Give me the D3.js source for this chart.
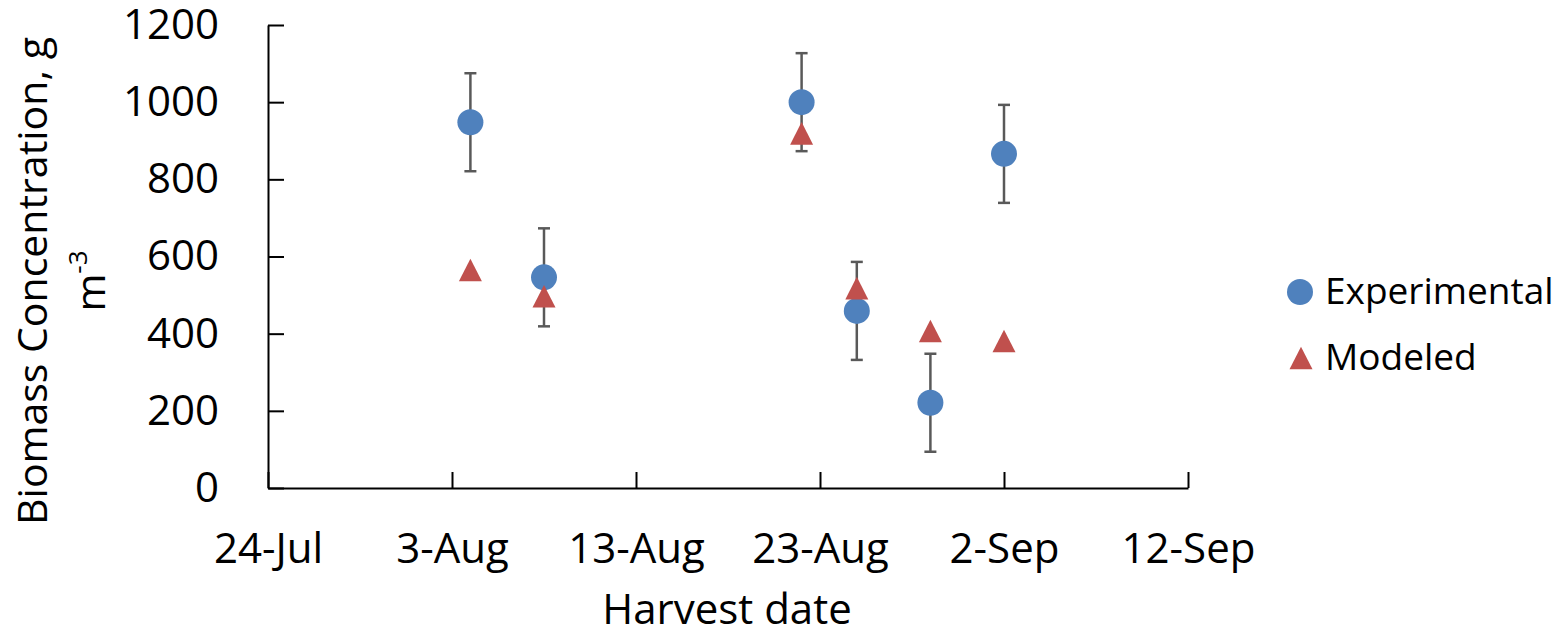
<!DOCTYPE html>
<html lang="en">
<head>
    <meta charset="UTF-8">
    <title>Biomass Concentration vs Harvest date</title>
    <script src="https://d3js.org/d3.v7.min.js"></script>
    <style>
        body {
            margin: 0;
            background: #fff;
        }
        svg {
            display: block;
            font-family: 'Open Sans', sans-serif;
        }
        .axis path, .axis line {
            stroke: #000;
            stroke-width: 2px;
        }
        .axis text {
            font-size: 42px;
            fill: #000;
        }
        .err {
            stroke: #595959;
            stroke-width: 2.5px;
        }
    </style>
</head>
<body>
    <svg width="1566" height="634"></svg>

    <script>
        // data
        const tickDates = ["2013-07-24", "2013-08-03", "2013-08-13", "2013-08-23", "2013-09-02", "2013-09-12"];
        const yTicks = [0, 200, 400, 600, 800, 1000, 1200];
        const harvestDates = ["2013-08-04", "2013-08-08", "2013-08-22", "2013-08-25", "2013-08-29", "2013-09-02"];
        const experimental = [948, 546, 1000, 459, 221, 866];
        const experimentalErr = [127, 127, 127, 127, 127, 127];
        const modeled = [565, 497, 919, 518, 407, 381];
        const seriesNames = ["Experimental", "Modeled"];

        const blue = "#4F81BD", red = "#C0504D";
        const parse = d3.utcParse("%Y-%m-%d");

        const svg = d3.select("svg");

        const x = d3.scaleUtc()
            .domain([parse(tickDates[0]), parse(tickDates[tickDates.length - 1])])
            .range([268, 1188]);
        const y = d3.scaleLinear().domain([0, 1200]).range([488, 25]);

        // 축
        svg.append("g")
            .attr("class", "axis")
            .attr("transform", "translate(0,488)")
            .call(d3.axisBottom(x)
                .tickValues(tickDates.map(parse))
                .tickFormat(d3.utcFormat("%-d-%b"))
                .tickSizeInner(-16)
                .tickSizeOuter(0)
                .tickPadding(45));

        svg.append("g")
            .attr("class", "axis")
            .attr("transform", "translate(268,0)")
            .call(d3.axisLeft(y)
                .tickValues(yTicks)
                .tickFormat(d3.format("d"))
                .tickSizeInner(-16)
                .tickSizeOuter(0)
                .tickPadding(49));

        svg.selectAll(".axis").attr("font-family", null).attr("font-size", null);

        // 축 제목
        svg.append("text")
            .attr("x", 727)
            .attr("y", 624)
            .attr("text-anchor", "middle")
            .attr("font-size", 42)
            .text("Harvest date");

        svg.append("text")
            .attr("transform", "translate(47,281) rotate(-90)")
            .attr("text-anchor", "middle")
            .attr("font-size", 41)
            .text("Biomass Concentration, g");

        const t2 = svg.append("text")
            .attr("transform", "translate(105,281) rotate(-90)")
            .attr("text-anchor", "middle")
            .attr("font-size", 41);
        t2.append("tspan").text("m");
        t2.append("tspan").attr("font-size", 26).attr("dy", -18).text("-3");

        const pts = harvestDates.map((d, i) => ({
            date: parse(d), exp: experimental[i], err: experimentalErr[i], mod: modeled[i]
        }));

        // error bars
        const eb = svg.append("g").attr("class", "err");
        eb.selectAll("line.v").data(pts).join("line")
            .attr("class", "v")
            .attr("x1", d => x(d.date)).attr("x2", d => x(d.date))
            .attr("y1", d => y(d.exp + d.err)).attr("y2", d => y(d.exp - d.err));
        eb.selectAll("line.top").data(pts).join("line")
            .attr("class", "top")
            .attr("x1", d => x(d.date) - 6).attr("x2", d => x(d.date) + 6)
            .attr("y1", d => y(d.exp + d.err)).attr("y2", d => y(d.exp + d.err));
        eb.selectAll("line.bot").data(pts).join("line")
            .attr("class", "bot")
            .attr("x1", d => x(d.date) - 6).attr("x2", d => x(d.date) + 6)
            .attr("y1", d => y(d.exp - d.err)).attr("y2", d => y(d.exp - d.err));

        const tri = "M0,-11.3L11.5,11.3L-11.5,11.3Z";

        svg.append("g").selectAll("circle").data(pts).join("circle")
            .attr("cx", d => x(d.date))
            .attr("cy", d => y(d.exp))
            .attr("r", 13)
            .attr("fill", blue);

        svg.append("g").selectAll("path").data(pts).join("path")
            .attr("d", tri)
            .attr("transform", d => `translate(${x(d.date)},${y(d.mod)})`)
            .attr("fill", red);

        // 범례
        const lg = svg.append("g");
        lg.append("circle").attr("cx", 1300).attr("cy", 292).attr("r", 13).attr("fill", blue);
        lg.append("path").attr("d", tri).attr("transform", "translate(1301,358)").attr("fill", red);
        lg.selectAll("text").data(seriesNames).join("text")
            .attr("x", 1325)
            .attr("y", (d, i) => 304 + i * 66)
            .attr("font-size", 37)
            .text(d => d);
    </script>
</body>
</html>
